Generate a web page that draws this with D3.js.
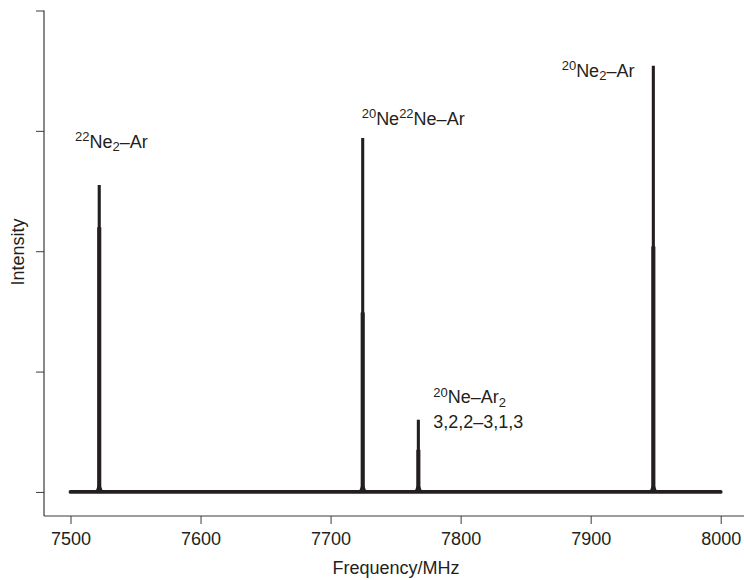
<!DOCTYPE html>
<html>
<head>
<meta charset="utf-8">
<script src="https://cdn.jsdelivr.net/npm/d3@7"></script>
<style>
  body { margin: 0; background: #fff; }
  text { font-family: "Liberation Sans", Arial, Helvetica, sans-serif; fill: #231f20; }
</style>
</head>
<body>
<svg id="chart" width="744" height="580"></svg>
<script>
// Spectrum data (intensity in arbitrary tick units)
var freqRange = [7500, 8000];
var peakFreq = [7522.1, 7724.7, 7767.5, 7948.2];
var peakHeight = [2.55, 2.94, 0.60, 3.54];
var peakShoulder = [2.20, 1.49, 0.35, 2.04];

var xTicks = [7500, 7600, 7700, 7800, 7900, 8000];
var yTicks = [0, 1, 2, 3, 4];

// Peak labels: pieces of text with super/subscripts, anchored in data units
var labelParts = [
  [["22", "sup"], ["Ne", ""], ["2", "sub"], ["\u2013Ar", ""]],
  [["20", "sup"], ["Ne", ""], ["22", "sup"], ["Ne\u2013Ar", ""]],
  [["20", "sup"], ["Ne\u2013Ar", ""], ["2", "sub"]],
  [["20", "sup"], ["Ne", ""], ["2", "sub"], ["\u2013Ar", ""]]
];
var labelFreq = [7503.5, 7723.9, 7779.0, 7877.7];
var labelInt = [2.86, 3.05, 0.735, 3.45];
var subLabel = { text: "3,2,2\u20133,1,3", freq: 7779.0, intensity: 0.53 };

var svg = d3.select('#chart');

var xScale = d3.scaleLinear()
  .domain(freqRange)
  .range([70.5, 720.7]);

var yScale = d3.scaleLinear()
  .domain([-0.2, 4])
  .range([516, 10.5]);

var axisColor = '#3a3a3a';
var ink = '#231f20';
var fontSize = 18;

// Axes
var xAxis = svg.append('g')
  .attr('transform', 'translate(0,516)')
  .call(d3.axisBottom(xScale).tickValues(xTicks).tickSize(8).tickPadding(8).tickFormat(d3.format('d')));
xAxis.select('.domain').remove();
xAxis.selectAll('line').attr('stroke', axisColor);
xAxis.selectAll('text').attr('font-size', fontSize).attr('font-family', null).style('fill', ink);

var yAxis = svg.append('g')
  .attr('transform', 'translate(44,0)')
  .call(d3.axisLeft(yScale).tickValues(yTicks).tickSize(8).tickFormat(''));
yAxis.select('.domain').remove();
yAxis.selectAll('line').attr('stroke', axisColor);

svg.append('line')
  .attr('x1', 44).attr('x2', 744)
  .attr('y1', 516).attr('y2', 516)
  .attr('stroke', axisColor).attr('stroke-width', 1.2);

svg.append('line')
  .attr('x1', 44).attr('x2', 44)
  .attr('y1', yScale(4)).attr('y2', 516)
  .attr('stroke', axisColor).attr('stroke-width', 1.2);

// Axis titles
svg.append('text')
  .attr('x', 396).attr('y', 574)
  .attr('text-anchor', 'middle')
  .attr('font-size', fontSize)
  .text('Frequency/MHz');

svg.append('text')
  .attr('transform', 'translate(24,252) rotate(-90)')
  .attr('text-anchor', 'middle')
  .attr('font-size', fontSize)
  .text('Intensity');

// Spectrum baseline
svg.append('line')
  .attr('x1', xScale(freqRange[0])).attr('x2', xScale(freqRange[1]))
  .attr('y1', yScale(0)).attr('y2', yScale(0))
  .attr('stroke', ink).attr('stroke-width', 3.8)
  .attr('stroke-linecap', 'round');

// Peaks
var peaks = peakFreq.map(function(f, i) {
  return { freq: f, height: peakHeight[i], shoulder: peakShoulder[i] };
});

var pk = svg.selectAll('.peak')
  .data(peaks)
  .enter()
  .append('g')
  .attr('class', 'peak');

pk.append('line')
  .attr('x1', function(d) { return xScale(d.freq); })
  .attr('x2', function(d) { return xScale(d.freq); })
  .attr('y1', yScale(0))
  .attr('y2', function(d) { return yScale(d.height); })
  .attr('stroke', ink).attr('stroke-width', 3.1);

pk.append('line')
  .attr('x1', function(d) { return xScale(d.freq); })
  .attr('x2', function(d) { return xScale(d.freq); })
  .attr('y1', yScale(0))
  .attr('y2', function(d) { return yScale(d.shoulder); })
  .attr('stroke', ink).attr('stroke-width', 4.1);

pk.append('path')
  .attr('d', function(d) {
    var x = xScale(d.freq), y0 = yScale(0);
    return 'M' + (x - 4) + ',' + y0 + 'L' + x + ',' + (y0 - 10) + 'L' + (x + 4) + ',' + y0 + 'Z';
  })
  .attr('fill', ink);

// Peak labels
labelParts.forEach(function(parts, i) {
  var t = svg.append('text')
    .attr('x', xScale(labelFreq[i]))
    .attr('y', yScale(labelInt[i]))
    .attr('font-size', fontSize);
  var off = 0;
  parts.forEach(function(p) {
    var target = p[1] === 'sup' ? -6.5 : (p[1] === 'sub' ? 3.5 : 0);
    t.append('tspan')
      .attr('dy', target - off)
      .attr('font-size', p[1] ? 13 : fontSize)
      .text(p[0]);
    off = target;
  });
});

svg.append('text')
  .attr('x', xScale(subLabel.freq))
  .attr('y', yScale(subLabel.intensity))
  .attr('font-size', fontSize)
  .text(subLabel.text);
</script>
</body>
</html>
